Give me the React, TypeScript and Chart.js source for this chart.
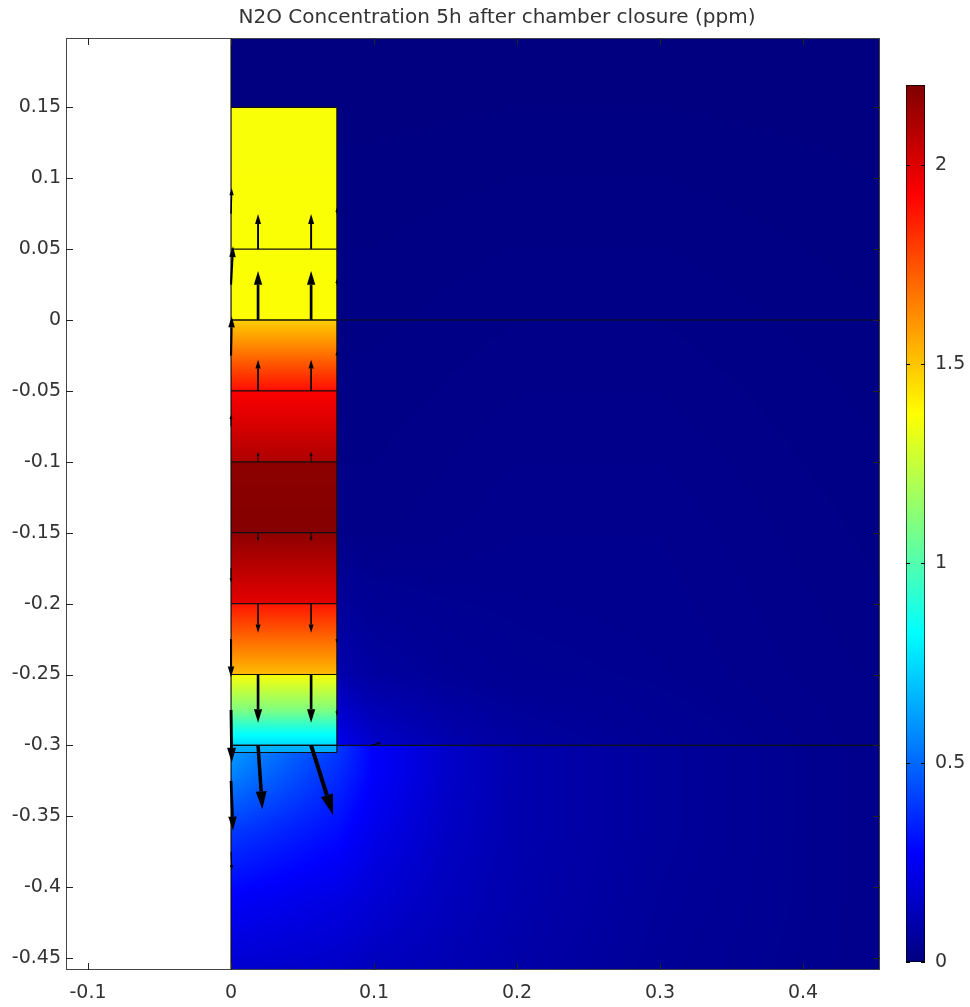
import React, { useEffect, useRef } from "react";
import { Chart, registerables } from "chart.js";

Chart.register(...registerables);

// ---------- text ----------
const TITLE = "N2O Concentration 5h after chamber closure (ppm)";
const FONT = "DejaVu Sans";

// ---------- axes ----------
const xRange = [-0.1154, 0.4538];
const yRange = [-0.4584, 0.1989];
const xTicks = [-0.1, 0, 0.1, 0.2, 0.3, 0.4];
const xTickLabels = ["-0.1", "0", "0.1", "0.2", "0.3", "0.4"];
const yTicks = [0.15, 0.1, 0.05, 0, -0.05, -0.1, -0.15, -0.2, -0.25, -0.3, -0.35, -0.4, -0.45];
const yTickLabels = ["0.15", "0.1", "0.05", "0", "-0.05", "-0.1", "-0.15", "-0.2", "-0.25", "-0.3", "-0.35", "-0.4", "-0.45"];

// ---------- colour bar ----------
const cbRange = [0, 2.2];
const cbTicks = [0, 0.5, 1, 1.5, 2];
const cbTickLabels = ["0", "0.5", "1", "1.5", "2"];

// ---------- geometry (data units) ----------
const columnX = [0, 0.074];
const columnTop = 0.15;
const columnBottom = -0.305;
const layerY = [0.05, 0, -0.05, -0.1, -0.15, -0.2, -0.25, -0.3];
const interfaceY = [0, -0.3];

// ---------- concentration inside the chamber column (ppm vs depth) ----------
const colProfileY = [0.15, 0.0, 0.0, -0.05, -0.05, -0.1, -0.1, -0.15, -0.15, -0.2, -0.2, -0.25, -0.25, -0.275, -0.29, -0.3, -0.3, -0.305];
const colProfileV = [1.36, 1.37, 1.48, 1.9, 1.93, 2.1, 2.17, 2.19, 2.17, 1.98, 1.88, 1.52, 1.36, 1.1, 0.86, 0.74, 0.66, 0.64];

// ---------- concentration outside the column (ppm on a coarse grid) ----------
const fieldX = [0, 0.074, 0.1, 0.15, 0.2, 0.3, 0.4, 0.46];
const fieldY = [0.2, -0.15, -0.25, -0.299, -0.301, -0.32, -0.36, -0.41, -0.46];
const fieldRow0 = [0, 0, 0, 0, 0, 0, 0, 0];
const fieldRow1 = [0.02, 0.02, 0.02, 0.025, 0.03, 0.03, 0.02, 0.015];
const fieldRow2 = [0.1, 0.1, 0.07, 0.05, 0.04, 0.035, 0.025, 0.02];
const fieldRow3 = [0.3, 0.24, 0.16, 0.1, 0.07, 0.045, 0.03, 0.02];
const fieldRow4 = [0.62, 0.4, 0.27, 0.16, 0.1, 0.06, 0.035, 0.025];
const fieldRow5 = [0.56, 0.37, 0.27, 0.16, 0.1, 0.06, 0.035, 0.025];
const fieldRow6 = [0.4, 0.3, 0.23, 0.15, 0.1, 0.06, 0.035, 0.025];
const fieldRow7 = [0.26, 0.21, 0.18, 0.13, 0.095, 0.055, 0.035, 0.025];
const fieldRow8 = [0.17, 0.15, 0.13, 0.11, 0.085, 0.05, 0.033, 0.025];
const fieldV = [fieldRow0, fieldRow1, fieldRow2, fieldRow3, fieldRow4, fieldRow5, fieldRow6, fieldRow7, fieldRow8];

// ---------- flux arrows (origin and vector, data units) ----------
const arrowX = [
  0.0189, 0.056, 0.0189, 0.056, 0.0189, 0.056, 0.0189, 0.056, 0.0189, 0.056, 0.0189, 0.056, 0.0189, 0.056, 0.0189, 0.056,
  0, 0, 0, 0, 0, 0, 0, 0, 0,
  0.074, 0.074, 0.074, 0.074, 0.074,
  0.098,
];
const arrowY = [
  0.05, 0.05, 0, 0, -0.05, -0.05, -0.1, -0.1, -0.15, -0.15, -0.2, -0.2, -0.25, -0.25, -0.3, -0.3,
  0.075, 0.025, -0.025, -0.075, -0.175, -0.225, -0.275, -0.325, -0.375,
  0.075, 0.025, -0.025, -0.225, -0.275,
  -0.3,
];
const arrowU = [
  0, 0, 0, 0, 0, 0, 0, 0, 0, 0, 0, 0, 0, 0, 0.003, 0.0154,
  0.0005, 0.0014, 0.0005, 0, 0, 0, 0.0005, 0.0014, 0.0005,
  0, 0, 0, 0, 0,
  0.007,
];
const arrowV = [
  0.0247, 0.0247, 0.0346, 0.0346, 0.0219, 0.0219, 0.007, 0.007, -0.006, -0.006, -0.0205, -0.0205, -0.034, -0.034, -0.045, -0.049,
  0.018, 0.027, 0.0275, 0.008, -0.01, -0.027, -0.037, -0.035, -0.013,
  0.004, 0.004, 0.003, -0.003, -0.004,
  0.002,
];

// ---------- helpers ----------
const clamp01 = (v: number) => Math.max(0, Math.min(1, v));
function jet(t: number): [number, number, number] {
  const r = clamp01(Math.min(4 * t - 1.5, -4 * t + 4.5));
  const g = clamp01(Math.min(4 * t - 0.5, -4 * t + 3.5));
  const b = clamp01(Math.min(4 * t + 0.5, -4 * t + 2.5));
  return [Math.round(r * 255), Math.round(g * 255), Math.round(b * 255)];
}
function valueToRgb(v: number) {
  return jet(clamp01((v - cbRange[0]) / (cbRange[1] - cbRange[0])));
}
function columnValue(y: number) {
  for (let i = 0; i < colProfileY.length - 1; i++) {
    const a = colProfileY[i], b = colProfileY[i + 1];
    if (a > b && y <= a && y >= b) {
      const t = (a - y) / (a - b);
      return colProfileV[i] + t * (colProfileV[i + 1] - colProfileV[i]);
    }
  }
  return colProfileV[colProfileV.length - 1];
}
function fieldValue(x: number, y: number) {
  let ix = 0;
  while (ix < fieldX.length - 2 && x > fieldX[ix + 1]) ix++;
  let iy = 0;
  while (iy < fieldY.length - 2 && y < fieldY[iy + 1]) iy++;
  const tx = clamp01((x - fieldX[ix]) / (fieldX[ix + 1] - fieldX[ix]));
  const ty = clamp01((fieldY[iy] - y) / (fieldY[iy] - fieldY[iy + 1]));
  const v00 = fieldV[iy][ix], v10 = fieldV[iy][ix + 1];
  const v01 = fieldV[iy + 1][ix], v11 = fieldV[iy + 1][ix + 1];
  const top = v00 + (v10 - v00) * tx;
  const bot = v01 + (v11 - v01) * tx;
  return top + (bot - top) * ty;
}

const heatmapPlugin = {
  id: "heatmap",
  beforeDatasetsDraw(chart: any) {
    const { ctx, chartArea, scales } = chart;
    const xs = scales.x, ys = scales.y;
    const w = Math.round(chartArea.right - chartArea.left);
    const h = Math.round(chartArea.bottom - chartArea.top);
    const off = document.createElement("canvas");
    off.width = w;
    off.height = h;
    const octx = off.getContext("2d")!;
    const img = octx.createImageData(w, h);
    const d = img.data;
    for (let j = 0; j < h; j++) {
      const y = ys.getValueForPixel(chartArea.top + j + 0.5);
      const cv = columnValue(y);
      for (let i = 0; i < w; i++) {
        const x = xs.getValueForPixel(chartArea.left + i + 0.5);
        if (x < 0) continue;
        let v: number;
        if (x <= columnX[1] && y <= columnTop && y >= columnBottom) v = cv;
        else v = fieldValue(x, y);
        const [r, g, b] = valueToRgb(v);
        const k = (j * w + i) * 4;
        d[k] = r; d[k + 1] = g; d[k + 2] = b; d[k + 3] = 255;
      }
    }
    octx.putImageData(img, 0, 0);
    ctx.drawImage(off, chartArea.left, chartArea.top);
  },
  afterDatasetsDraw(chart: any) {
    const { ctx, scales, chartArea } = chart;
    const xs = scales.x, ys = scales.y;
    ctx.save();
    ctx.beginPath();
    ctx.rect(chartArea.left, chartArea.top, chartArea.right - chartArea.left, chartArea.bottom - chartArea.top);
    ctx.clip();
    ctx.fillStyle = "#000";
    ctx.strokeStyle = "#000";
    for (let i = 0; i < arrowX.length; i++) {
      const x0 = xs.getPixelForValue(arrowX[i]);
      const y0 = ys.getPixelForValue(arrowY[i]);
      const x1 = xs.getPixelForValue(arrowX[i] + arrowU[i]);
      const y1 = ys.getPixelForValue(arrowY[i] + arrowV[i]);
      const dx = x1 - x0, dy = y1 - y0;
      const len = Math.hypot(dx, dy);
      if (len < 1) continue;
      const ux = dx / len, uy = dy / len;
      const hl = Math.min(len, Math.max(4, 0.28 * len));
      const hw = Math.max(3, 0.17 * len);
      const bx = x1 - ux * hl, by = y1 - uy * hl;
      ctx.lineWidth = Math.max(1, 0.055 * len);
      ctx.beginPath();
      ctx.moveTo(x0, y0);
      ctx.lineTo(bx, by);
      ctx.stroke();
      ctx.beginPath();
      ctx.moveTo(x1, y1);
      ctx.lineTo(bx - uy * hw / 2, by + ux * hw / 2);
      ctx.lineTo(bx + uy * hw / 2, by - ux * hw / 2);
      ctx.closePath();
      ctx.fill();
    }
    ctx.restore();
  },
  afterDraw(chart: any) {
    const { ctx, chartArea, scales } = chart;
    const { left, right, top, bottom } = chartArea;
    ctx.save();
    ctx.strokeStyle = "#444";
    ctx.lineWidth = 1;
    ctx.strokeRect(left + 0.5, top + 0.5, right - left - 1, bottom - top - 1);
    ctx.strokeStyle = "#222";
    const tl = 7;
    ctx.beginPath();
    for (const v of xTicks) {
      const px = Math.round(scales.x.getPixelForValue(v)) + 0.5;
      ctx.moveTo(px, top); ctx.lineTo(px, top + tl);
      ctx.moveTo(px, bottom); ctx.lineTo(px, bottom - tl);
    }
    for (const v of yTicks) {
      const py = Math.round(scales.y.getPixelForValue(v)) + 0.5;
      ctx.moveTo(left, py); ctx.lineTo(left + tl, py);
      ctx.moveTo(right, py); ctx.lineTo(right - tl, py);
    }
    ctx.stroke();
    ctx.restore();
  },
  afterLayout(chart: any) {
    if (chart.titleBlock) {
      chart.titleBlock.left = 24;
      chart.titleBlock.right = 970;
    }
  },
};

const cbPlugin = {
  id: "cbticks",
  afterDraw(chart: any) {
    const { ctx, chartArea, scales } = chart;
    ctx.save();
    ctx.strokeStyle = "#000";
    ctx.lineWidth = 1;
    ctx.beginPath();
    for (const v of cbTicks) {
      const py = Math.round(scales.y.getPixelForValue(v)) + 0.5;
      ctx.moveTo(chartArea.left, py); ctx.lineTo(chartArea.left + 4, py);
      ctx.moveTo(chartArea.right, py); ctx.lineTo(chartArea.right - 4, py);
    }
    ctx.stroke();
    ctx.restore();
  },
};

function seg(x0: number, y0: number, x1: number, y1: number) {
  return {
    data: [{ x: x0, y: y0 }, { x: x1, y: y1 }],
    showLine: true,
    borderColor: "#111",
    borderWidth: 1.2,
    pointRadius: 0,
    fill: false,
  };
}

function cbGradient(c: any) {
  const ch = c.chart;
  const ys = ch.scales && ch.scales.y;
  if (!ys) return "#000080";
  const p0 = ys.getPixelForValue(cbRange[0]);
  const p1 = ys.getPixelForValue(cbRange[1]);
  if (!isFinite(p0) || !isFinite(p1) || p0 === p1) return "#000080";
  const g = ch.ctx.createLinearGradient(0, p0, 0, p1);
  for (let k = 0; k <= 8; k++) {
    const [r, gg, b] = jet(k / 8);
    g.addColorStop(k / 8, `rgb(${r},${gg},${b})`);
  }
  return g;
}

export default function App() {
  const mainRef = useRef<HTMLCanvasElement>(null);
  const cbRef = useRef<HTMLCanvasElement>(null);

  useEffect(() => {
    const tickFont = { family: FONT, size: 19 };
    const lineSets = [
      seg(0, yRange[0], 0, yRange[1]),
      seg(columnX[1], columnBottom, columnX[1], columnTop),
      seg(columnX[0], columnTop, columnX[1], columnTop),
      seg(columnX[0], columnBottom, columnX[1], columnBottom),
      ...layerY.map((y) => seg(columnX[0], y, columnX[1], y)),
      ...interfaceY.map((y) => seg(columnX[0], y, xRange[1], y)),
    ];
    const arrowSet = {
      data: arrowX.map((x, i) => ({ x, y: arrowY[i] })),
      pointRadius: 0,
      showLine: false,
    };
    const main = new Chart(mainRef.current!, {
      type: "scatter",
      data: { datasets: [...lineSets, arrowSet] as any },
      options: {
        animation: false,
        responsive: false,
        devicePixelRatio: 1,
        layout: { padding: { top: 0, right: 90, bottom: 0, left: 0 } },
        plugins: {
          legend: { display: false },
          tooltip: { enabled: false },
          title: {
            display: true,
            text: TITLE,
            color: "#333",
            font: { family: FONT, size: 20, weight: "normal", lineHeight: 1.2 },
            padding: { top: 6, bottom: 8 },
          },
        },
        scales: {
          x: {
            type: "linear",
            min: xRange[0],
            max: xRange[1],
            grid: { display: false, drawTicks: false },
            border: { display: false },
            ticks: {
              font: tickFont,
              color: "#333",
              padding: 12,
              maxRotation: 0,
              callback: (_v: any, i: number) => xTickLabels[i],
            },
            afterBuildTicks: (s: any) => { s.ticks = xTicks.map((value) => ({ value })); },
            afterFit: (s: any) => { s.height = 37; },
          },
          y: {
            type: "linear",
            min: yRange[0],
            max: yRange[1],
            grid: { display: false, drawTicks: false },
            border: { display: false },
            ticks: {
              font: tickFont,
              color: "#333",
              padding: 5,
              callback: (_v: any, i: number) => yTickLabels[i],
            },
            afterBuildTicks: (s: any) => { s.ticks = yTicks.map((value) => ({ value })); },
            afterFit: (s: any) => { s.width = 66; },
          },
        },
      } as any,
      plugins: [heatmapPlugin],
    });

    const cb = new Chart(cbRef.current!, {
      type: "bar",
      data: {
        labels: [""],
        datasets: [
          {
            data: [[cbRange[0], cbRange[1]]] as any,
            backgroundColor: cbGradient,
            borderColor: "#000",
            borderWidth: 1,
            borderSkipped: false,
            barPercentage: 1,
            categoryPercentage: 1,
          } as any,
        ],
      },
      options: {
        animation: false,
        responsive: false,
        devicePixelRatio: 1,
        layout: { padding: { left: 26, top: 25, bottom: 28, right: 0 } },
        plugins: { legend: { display: false }, tooltip: { enabled: false } },
        scales: {
          x: { display: false },
          y: {
            position: "right",
            min: cbRange[0],
            max: cbRange[1],
            grid: { display: false, drawTicks: false },
            border: { display: false },
            ticks: {
              font: tickFont,
              color: "#333",
              padding: 10,
              callback: (_v: any, i: number) => cbTickLabels[i],
            },
            afterBuildTicks: (s: any) => { s.ticks = cbTicks.map((value) => ({ value })); },
            afterFit: (s: any) => { s.width = 45; },
          },
        },
      } as any,
      plugins: [cbPlugin],
    });

    return () => {
      main.destroy();
      cb.destroy();
    };
  }, []);

  return (
    <div style={{ position: "absolute", left: 0, top: 0, width: 970, height: 1007, background: "#fff" }}>
      <canvas ref={mainRef} width={970} height={1007} style={{ position: "absolute", left: 0, top: 0, width: 970, height: 1007 }} />
      <canvas ref={cbRef} width={90} height={930} style={{ position: "absolute", left: 880, top: 60, width: 90, height: 930 }} />
    </div>
  );
}
